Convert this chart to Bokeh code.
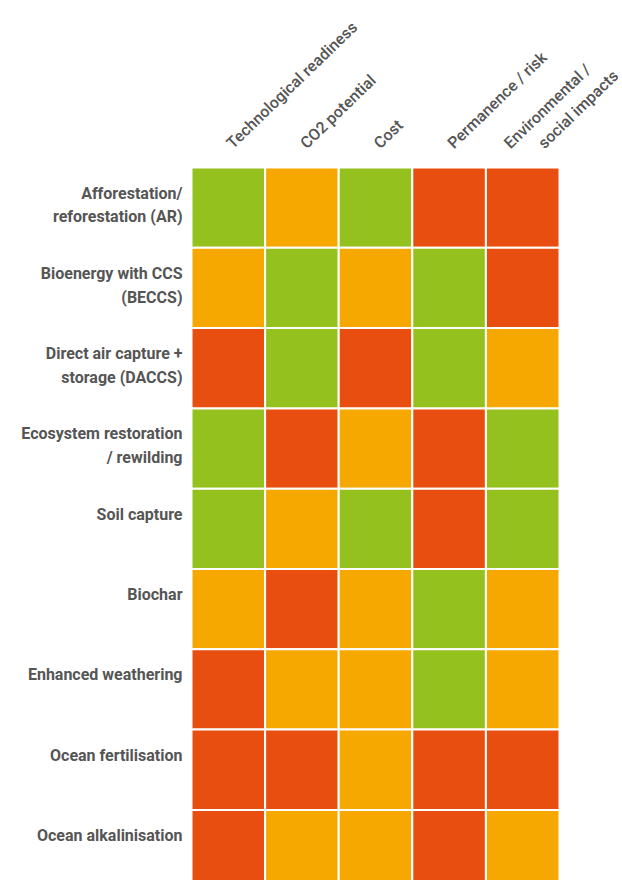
import math
from bokeh.plotting import figure
from bokeh.models import ColumnDataSource, Range1d
from bokeh.core.properties import value
from bokeh.embed import file_html
from bokeh.resources import INLINE

# ---- data ----
methods = [
    "Afforestation/\nreforestation (AR)",
    "Bioenergy with CCS\n(BECCS)",
    "Direct air capture +\nstorage (DACCS)",
    "Ecosystem restoration\n/ rewilding",
    "Soil capture",
    "Biochar",
    "Enhanced weathering",
    "Ocean fertilisation",
    "Ocean alkalinisation",
]
criteria = [
    "Technological readiness",
    "CO2 potential",
    "Cost",
    "Permanence / risk",
    "Environmental /\nsocial impacts",
]
# g = favourable, o = medium, r = unfavourable
ratings = [
    ["g", "o", "g", "r", "r"],
    ["o", "g", "o", "g", "r"],
    ["r", "g", "r", "g", "o"],
    ["g", "r", "o", "r", "g"],
    ["g", "o", "g", "r", "g"],
    ["o", "r", "o", "g", "o"],
    ["r", "o", "o", "g", "o"],
    ["r", "r", "o", "r", "r"],
    ["r", "o", "o", "r", "o"],
]
palette = {"g": "#95c11f", "o": "#f6a800", "r": "#e84e0f"}

# ---- layout constants (pixels) ----
W, H = 621, 880
LEFT, TOP = 191, 167
COL_W, ROW_H = 73.6, 80.3
FONT = "Roboto"
MEDIUM = "'Roboto Medium', Roboto"
GREY = "#555555"

p = figure(
    width=W, height=H, output_backend="svg", toolbar_location=None,
    x_range=Range1d(-LEFT / COL_W, (W - LEFT) / COL_W),
    y_range=Range1d((H - TOP) / ROW_H, -TOP / ROW_H),
    min_border=0, outline_line_color=None,
)
p.axis.visible = False
p.grid.visible = False
p.background_fill_color = "white"
p.border_fill_color = "white"

# cells
xs, ys, cols = [], [], []
for r, row in enumerate(ratings):
    for c, v in enumerate(row):
        xs.append(c + 0.5)
        ys.append(r + 0.5)
        cols.append(palette[v])
cells = ColumnDataSource(dict(x=xs, y=ys, color=cols))
p.rect(x="x", y="y", width=1, height=1, source=cells,
       fill_color="color", line_color="white", line_width=2)

# row labels
rsrc = ColumnDataSource(dict(x=[0] * len(methods), y=list(range(len(methods))), text=methods))
p.text(x="x", y="y", text="text", source=rsrc, x_offset=-9, y_offset=16,
       text_align="right", text_baseline="top", text_font=value(FONT),
       text_font_style="bold", text_font_size="16px", text_color=GREY,
       text_line_height=1.25)

# column labels (one entry per line)
cx, cy, ct, cdx = [], [], [], []
for i, lab in enumerate(criteria):
    lines = lab.split("\n")
    n = len(lines)
    for k, ln in enumerate(lines):
        cx.append(i + 0.5)
        cy.append(0)
        ct.append(ln)
        cdx.append((k - (n - 1) / 2) * 34 + 1)
csrc = ColumnDataSource(dict(x=cx, y=cy, text=ct, dx=cdx))
p.text(x="x", y="y", text="text", source=csrc, x_offset="dx", y_offset=-22,
       angle=math.radians(44), text_align="left", text_baseline="alphabetic",
       text_font=value(MEDIUM), text_font_size="16px", text_color=GREY)

open("out.html", "w").write(file_html(p, INLINE))
